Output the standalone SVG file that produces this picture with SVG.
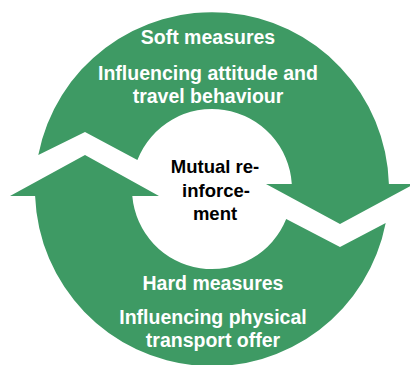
<svg xmlns="http://www.w3.org/2000/svg" width="410" height="365" viewBox="0 0 410 365">
<style>
.arc{fill:#3e9a64;stroke:none}
.t{font-family:"Liberation Sans",Arial,sans-serif;font-weight:bold;text-anchor:middle}
.w{fill:#ffffff;font-size:19.5px}
.k{fill:#000000;font-size:18.5px}
</style>
<rect width="410" height="365" fill="#ffffff"/>
<g id="connectors">
<path id="soft-arrow" class="arc" d="M38.3,155 L85,132 L137.4,160 A80,80 0 0 1 291.8,184 L266,184 L340,224 L414,184 L388.9,184 A177,177 0 0 0 38.3,155 Z"/>
<path id="hard-arrow" class="arc" d="M385.7,223 L340,247 L286.2,219 A80,80 0 0 1 132.3,196 L159,196 L85,155 L10,196 L35.1,196 A177,177 0 0 0 385.7,223 Z"/>
</g>
<g id="soft">
<text class="t w" x="208" y="43.5">Soft measures</text>
<text class="t w" x="208" y="80">Influencing attitude and</text>
<text class="t w" x="208" y="103">travel behaviour</text>
</g>
<g id="hard">
<text class="t w" x="213" y="290">Hard measures</text>
<text class="t w" x="213" y="324">Influencing physical</text>
<text class="t w" x="213" y="347">transport offer</text>
</g>
<g id="center">
<text class="t k" x="215" y="173">Mutual re-</text>
<text class="t k" x="216" y="196.5">inforce-</text>
<text class="t k" x="215" y="220">ment</text>
</g>
</svg>
